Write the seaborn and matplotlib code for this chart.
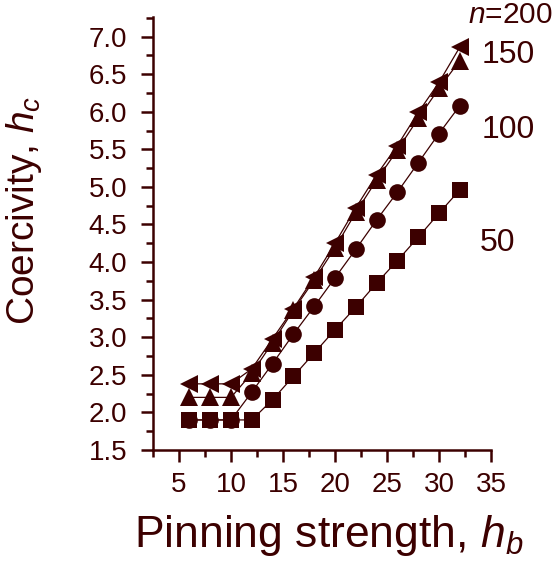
import numpy as np
import pandas as pd
import seaborn as sns
import matplotlib
matplotlib.use("Agg")
import matplotlib.pyplot as plt
from matplotlib.ticker import MultipleLocator

# data
h_b = [6, 8, 10, 12, 14, 16, 18, 20, 22, 24, 26, 28, 30, 32]
hc_50 = [1.9, 1.9, 1.9, 1.9, 2.17, 2.48, 2.79, 3.1, 3.4, 3.72, 4.02, 4.33, 4.65, 4.96]
hc_100 = [1.9, 1.9, 1.9, 2.27, 2.65, 3.04, 3.41, 3.79, 4.17, 4.56, 4.93, 5.32, 5.71, 6.08]
hc_150 = [2.2, 2.2, 2.2, 2.52, 2.93, 3.36, 3.76, 4.19, 4.66, 5.09, 5.49, 5.91, 6.31, 6.68]
hc_200 = [2.38, 2.38, 2.38, 2.58, 2.98, 3.38, 3.8, 4.25, 4.72, 5.16, 5.55, 5.99, 6.39, 6.86]
n_labels = ["50", "100", "150", "$n$=200"]

col = "#3c0000"

sns.set_style("ticks")
plt.rcParams["font.family"] = ["Liberation Sans", "DejaVu Sans"]
plt.rcParams["mathtext.fontset"] = "custom"
plt.rcParams["mathtext.rm"] = "Liberation Sans"
plt.rcParams["mathtext.it"] = "Liberation Sans:italic"

df = pd.DataFrame({
    "h_b": h_b * 4,
    "h_c": hc_50 + hc_100 + hc_150 + hc_200,
    "n": np.repeat([50, 100, 150, 200], len(h_b)),
})

fig = plt.figure(figsize=(5.53, 5.61), dpi=100)
ax = fig.add_axes([153 / 553, 1 - 450 / 561, 338 / 553, 433 / 561])

# 每条曲线单独画, 标记大小不同
styles = {50: ("s", 11.5), 100: ("o", 12), 150: ("^", 13.5), 200: ("<", 13)}
for n, (m, ms) in styles.items():
    sub = df[df["n"] == n]
    sns.lineplot(data=sub, x="h_b", y="h_c", ax=ax, color=col, lw=0.9,
                 marker=m, markersize=ms, markeredgewidth=0,
                 markerfacecolor=col, legend=False)

ax.set_xlim(2.5, 35)
ax.set_ylim(1.5, 7.26)
ax.xaxis.set_major_locator(MultipleLocator(5))
ax.xaxis.set_minor_locator(MultipleLocator(2.5))
ax.yaxis.set_major_locator(MultipleLocator(0.5))
ax.yaxis.set_minor_locator(MultipleLocator(0.25))
ax.yaxis.set_major_formatter(matplotlib.ticker.FormatStrFormatter("%.1f"))

for s in ["top", "right"]:
    ax.spines[s].set_visible(False)
for s in ["left", "bottom"]:
    ax.spines[s].set_linewidth(1.8)
    ax.spines[s].set_color(col)

ax.tick_params(which="major", length=8.5, width=1.8, color=col,
               labelsize=20, labelcolor=col)
ax.tick_params(which="minor", length=5, width=1.8, color=col)
ax.tick_params(axis="y", which="major", pad=10)
ax.tick_params(axis="x", which="major", pad=7)
ax.set_xlabel("")
ax.set_ylabel("")

fig.text(24 / 553, 1 - 210 / 561, "Coercivity, $h_c$", rotation=90,
         ha="center", va="center", fontsize=28, color=col)
fig.text(329 / 553, 1 - 536 / 561, "Pinning strength, $h_b$",
         ha="center", va="center", fontsize=32, color=col)

# 曲线标签
label_pos = [(480, 243), (482, 130), (482, 55), (468, 15)]
sizes = [23, 23, 23, 21.5]
for lab, (px, py), fs in zip(n_labels, label_pos, sizes):
    fig.text(px / 553, 1 - py / 561, lab, ha="left", va="center",
             fontsize=fs, color=col)

fig.savefig("out.png", dpi=100)
